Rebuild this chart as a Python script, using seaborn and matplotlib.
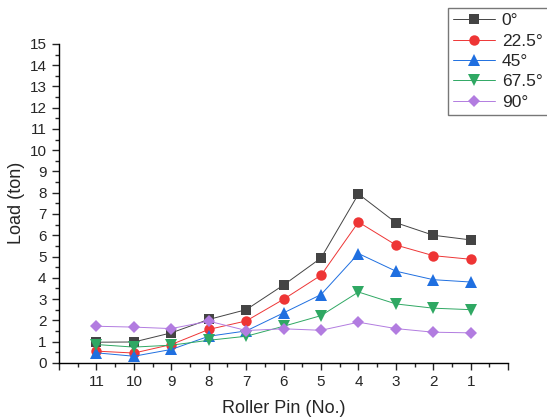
import matplotlib
matplotlib.use("Agg")
import matplotlib.pyplot as plt
import seaborn as sns
from matplotlib.ticker import MultipleLocator

# roller pin numbers and load per angle
pins = [11, 10, 9, 8, 7, 6, 5, 4, 3, 2, 1]
load_0 = [0.97, 0.98, 1.41, 2.04, 2.50, 3.66, 4.93, 7.94, 6.59, 6.00, 5.78]
load_22 = [0.55, 0.46, 0.86, 1.57, 1.97, 2.99, 4.12, 6.62, 5.54, 5.04, 4.87]
load_45 = [0.47, 0.31, 0.63, 1.25, 1.50, 2.35, 3.21, 5.14, 4.31, 3.91, 3.80]
load_67 = [0.86, 0.74, 0.83, 1.06, 1.25, 1.72, 2.22, 3.33, 2.77, 2.57, 2.50]
load_90 = [1.72, 1.68, 1.61, 1.96, 1.52, 1.60, 1.53, 1.91, 1.61, 1.44, 1.41]
labels = ["0°", "22.5°", "45°", "67.5°", "90°"]

sns.set_style("white")
plt.rcParams['font.family'] = ['Liberation Sans', 'DejaVu Sans']

fig = plt.figure(figsize=(5.47, 4.18), dpi=100)
ax = fig.add_axes([0.108, 0.132, 0.821, 0.763])

series = [load_0, load_22, load_45, load_67, load_90]
colors = ["#444444", "#ee3535", "#1f6fe0", "#2fa863", "#b27ce0"]
markers = ["s", "o", "^", "v", "D"]
sizes = [7, 7.5, 8, 8, 6.5]

for vals, c, m, ms, lab in zip(series, colors, markers, sizes, labels):
    sns.lineplot(x=pins, y=vals, ax=ax, color=c, marker=m, markersize=ms,
                 markeredgewidth=0, linewidth=0.7, label=lab)

ax.set_xlim(12, 0)
ax.set_ylim(0, 15)
ax.set_xticks(range(0, 13))
ax.set_xticklabels([""] + [str(i) for i in range(1, 12)] + [""])
ax.xaxis.set_minor_locator(MultipleLocator(0.5))
ax.yaxis.set_major_locator(MultipleLocator(1))
ax.yaxis.set_minor_locator(MultipleLocator(0.5))
ax.tick_params(which='major', direction='out', length=5, width=1,
               labelsize=11, bottom=True, left=True, pad=4)
ax.tick_params(which='minor', direction='out', length=3, width=1,
               bottom=True, left=True)

for s in ['top', 'right']:
    ax.spines[s].set_visible(False)
for s in ['left', 'bottom']:
    ax.spines[s].set_color('black')
    ax.spines[s].set_linewidth(1)

ax.set_xlabel("Roller Pin (No.)", fontsize=13, labelpad=8)
ax.set_ylabel("Load (ton)", fontsize=13, labelpad=3)

leg = ax.legend(loc='upper left', bbox_to_anchor=(448 / 547, 1 - 8 / 418),
                bbox_transform=fig.transFigure, fontsize=12.5, frameon=True,
                fancybox=False, edgecolor='#555555', handlelength=2.4,
                borderpad=0.3, labelspacing=0.3, handletextpad=0.4,
                borderaxespad=0)
leg.get_frame().set_linewidth(1)

fig.savefig("out.png", dpi=100)
